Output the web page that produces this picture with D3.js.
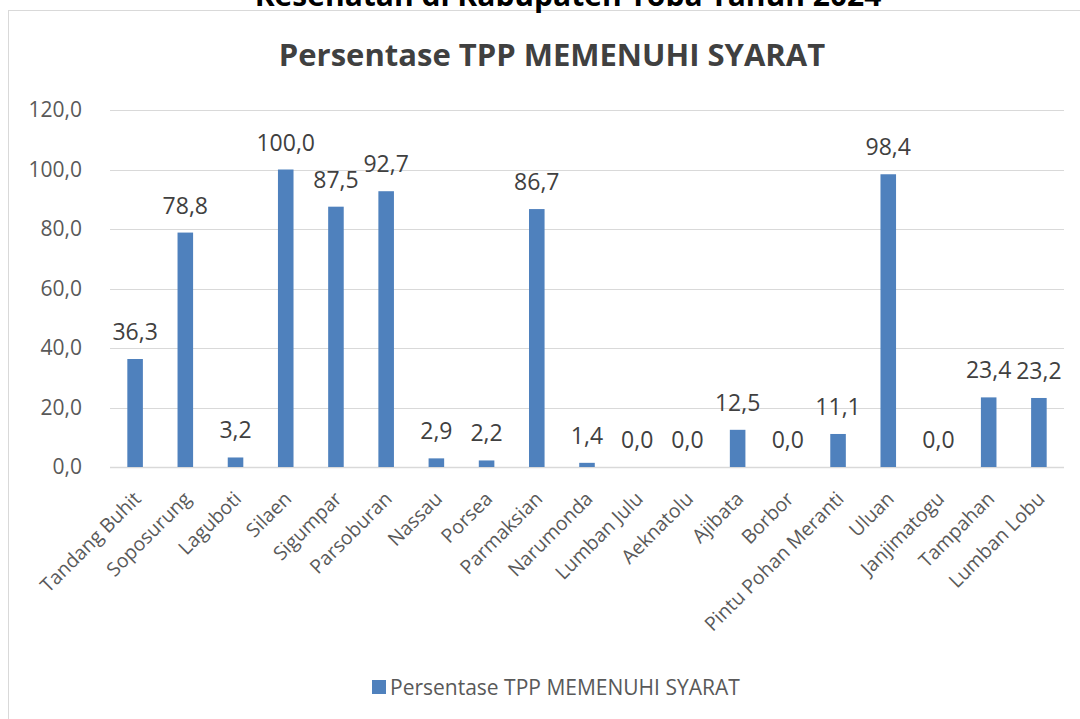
<!DOCTYPE html>
<html>
<head>
<meta charset="utf-8">
<title>Persentase TPP</title>
<script src="https://cdn.jsdelivr.net/npm/d3@7"></script>
<style>
  body { margin: 0; background: #fff; }
  svg text { font-family: "Open Sans", sans-serif; }
</style>
</head>
<body>
<script>
const categories = ["Tandang Buhit", "Soposurung", "Laguboti", "Silaen", "Sigumpar", "Parsoburan", "Nassau", "Porsea", "Parmaksian", "Narumonda", "Lumban Julu", "Aeknatolu", "Ajibata", "Borbor", "Pintu Pohan Meranti", "Uluan", "Janjimatogu", "Tampahan", "Lumban Lobu"];
const values = [36.3, 78.8, 3.2, 100.0, 87.5, 92.7, 2.9, 2.2, 86.7, 1.4, 0.0, 0.0, 12.5, 0.0, 11.1, 98.4, 0.0, 23.4, 23.2];
const yTicks = [0, 20, 40, 60, 80, 100, 120];
const seriesName = "Persentase TPP MEMENUHI SYARAT";

const W = 1080, H = 719;
const plot = { left: 110, right: 1064, top: 110, bottom: 467 };
const fmt = v => d3.format(".1f")(v).replace(".", ",");

const svg = d3.select("body").append("svg").attr("width", W).attr("height", H);

// chart frame
svg.append("rect").attr("x", 8.5).attr("y", 10.5).attr("width", 1100).attr("height", 720)
  .attr("fill", "#fff").attr("stroke", "#d9d9d9");

// clipped document title above the chart
svg.append("text").attr("x", 568).attr("y", 6).attr("text-anchor", "middle")
  .style("font-size", "30px").style("font-weight", "bold").attr("fill", "#000")
  .text("Kesehatan di Kabupaten Toba Tahun 2024");

svg.append("text").attr("x", 552).attr("y", 66).attr("text-anchor", "middle")
  .style("font-size", "31px").style("font-weight", "bold").attr("fill", "#404040")
  .text(seriesName);

const x = d3.scaleBand().domain(categories).range([plot.left, plot.right]).paddingInner(0.69).paddingOuter(0.345);
const y = d3.scaleLinear().domain([0, 120]).range([plot.bottom, plot.top]);

// gridlines
svg.append("g").selectAll("line").data(yTicks).join("line")
  .attr("x1", plot.left).attr("x2", plot.right)
  .attr("y1", d => Math.round(y(d)) + 0.5).attr("y2", d => Math.round(y(d)) + 0.5)
  .attr("stroke", "#d9d9d9").attr("stroke-width", d => d === 0 ? 1.5 : 1);

// y axis labels
const yAxis = svg.append("g").attr("transform", `translate(${plot.left},0)`)
  .call(d3.axisLeft(y).tickValues(yTicks).tickFormat(fmt).tickSize(0).tickPadding(28));
yAxis.select(".domain").remove();
yAxis.selectAll("text").style("font-size", "21px").attr("fill", "#595959").style("font-family", "'Open Sans', sans-serif");

// bars
svg.append("g").selectAll("rect").data(values).join("rect")
  .attr("x", (d, i) => x(categories[i]))
  .attr("y", d => y(d))
  .attr("width", x.bandwidth())
  .attr("height", d => y(0) - y(d))
  .attr("fill", "#4f81bd");

// value labels
svg.append("g").selectAll("text").data(values).join("text")
  .attr("x", (d, i) => x(categories[i]) + x.bandwidth() / 2)
  .attr("y", d => y(d) - 19)
  .attr("text-anchor", "middle")
  .style("font-size", "23px").attr("fill", "#404040")
  .text(fmt);

// x labels
svg.append("g").selectAll("text").data(categories).join("text")
  .attr("transform", d => `translate(${x(d) + x.bandwidth() / 2 + 7},${plot.bottom + 33}) rotate(-45)`)
  .attr("text-anchor", "end")
  .style("font-size", "19.5px").attr("fill", "#595959")
  .text(d => d);

// legend
const lg = svg.append("g").attr("transform", "translate(372,680)");
lg.append("rect").attr("width", 14).attr("height", 14).attr("fill", "#4f81bd");
lg.append("text").attr("x", 18).attr("y", 15)
  .style("font-size", "21px").attr("fill", "#595959").text(seriesName);
</script>
</body>
</html>
